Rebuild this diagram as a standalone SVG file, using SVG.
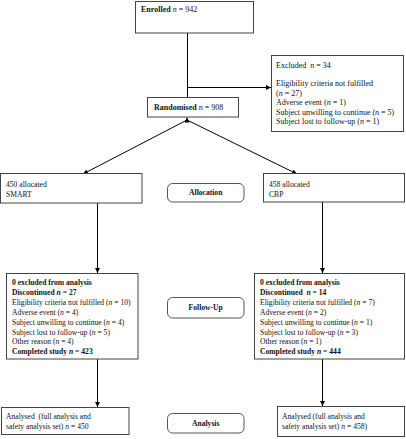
<svg xmlns="http://www.w3.org/2000/svg" width="406" height="439" viewBox="0 0 406 439">
<defs>
<marker id="ah" viewBox="0 0 6 6" refX="6" refY="3" markerWidth="5" markerHeight="5" orient="auto" markerUnits="userSpaceOnUse"><path d="M0,0 L6,3 L0,6 z" fill="#000"/></marker>
</defs>
<style>
.box{fill:#fff;stroke:#444;stroke-width:1}
.lab{fill:#fff;stroke:#555;stroke-width:1}
.ln{stroke:#000;stroke-width:1;fill:none}
text{font-family:"Liberation Serif","Times New Roman",serif;fill:#111;white-space:pre}
.t8{font-size:8px}
.t{font-size:7.6px}
.b{font-weight:bold}
.i{font-style:italic}
</style>
<rect width="406" height="439" fill="#fff"/>
<g id="connectors">
<line class="ln" x1="187.5" y1="33" x2="187.5" y2="97"/>
<line class="ln" x1="187.5" y1="87.5" x2="271" y2="87.5" marker-end="url(#ah)"/>
<line class="ln" x1="187" y1="121" x2="187" y2="117.5" marker-end="url(#ah)"/>
<line class="ln" x1="187" y1="120" x2="83" y2="174" marker-end="url(#ah)"/>
<line class="ln" x1="187" y1="120" x2="297" y2="174" marker-end="url(#ah)"/>
<line class="ln" x1="97.5" y1="203" x2="97.5" y2="273" marker-end="url(#ah)"/>
<line class="ln" x1="322.5" y1="202" x2="322.5" y2="273" marker-end="url(#ah)"/>
<line class="ln" x1="97.5" y1="359" x2="97.5" y2="407" marker-end="url(#ah)"/>
<line class="ln" x1="322.5" y1="359" x2="322.5" y2="406" marker-end="url(#ah)"/>
</g>
<g id="enrolled">
<rect class="box" x="135.5" y="1.5" width="118" height="31.5"/>
<text class="t8" x="141" y="12"><tspan class="b">Enrolled</tspan> <tspan class="i">n</tspan> = 942</text>
</g>
<g id="excluded">
<rect class="box" x="271.5" y="55.5" width="132" height="76"/>
<text class="t8" x="276" y="67.5">Excluded  <tspan class="i">n</tspan> = 34</text>
<text class="t8" x="276" y="86">Eligibility criteria not fulfilled</text>
<text class="t8" x="276" y="95.5">(<tspan class="i">n</tspan> = 27)</text>
<text class="t8" x="276" y="105">Adverse event (<tspan class="i">n</tspan> = 1)</text>
<text class="t8" x="276" y="114.5">Subject unwilling to continue (<tspan class="i">n</tspan> = 5)</text>
<text class="t8" x="276" y="124">Subject lost to follow-up (<tspan class="i">n</tspan> = 1)</text>
</g>
<g id="randomised">
<rect class="box" x="147.5" y="97.5" width="91" height="19.5"/>
<text class="t8" x="154" y="110"><tspan class="b">Randomised</tspan> <tspan class="i">n</tspan> = 908</text>
</g>
<g id="smart">
<rect class="box" x="0.5" y="173.5" width="141.5" height="29.5"/>
<text class="t" x="6" y="186.5">450 allocated</text>
<text class="t" x="6" y="196.5">SMART</text>
</g>
<g id="allocation">
<rect class="lab" x="167.5" y="183.5" width="76.5" height="18.5" rx="5"/>
<text class="t b" x="205.7" y="195" text-anchor="middle">Allocation</text>
</g>
<g id="cbp">
<rect class="box" x="263.5" y="173.5" width="141" height="28.5"/>
<text class="t" x="269" y="186.5">458 allocated</text>
<text class="t" x="269" y="196.5">CBP</text>
</g>
<g id="followup-smart">
<rect class="box" x="6.5" y="273.5" width="131.5" height="85.5"/>
<text class="t" x="12" y="285"><tspan class="b">0 excluded from analysis</tspan></text>
<text class="t" x="12" y="295"><tspan class="b">Discontinued <tspan class="i">n</tspan> = 27</tspan></text>
<text class="t" x="12" y="304.8">Eligibility criteria not fulfilled (<tspan class="i">n</tspan> = 10)</text>
<text class="t" x="12" y="314.7">Adverse event (<tspan class="i">n</tspan> = 4)</text>
<text class="t" x="12" y="324.6">Subject unwilling to continue (<tspan class="i">n</tspan> = 4)</text>
<text class="t" x="12" y="334.5">Subject lost to follow-up (<tspan class="i">n</tspan> = 5)</text>
<text class="t" x="12" y="344.4">Other reason (<tspan class="i">n</tspan> = 4)</text>
<text class="t" x="12" y="354.3"><tspan class="b">Completed study <tspan class="i">n</tspan> = 423</tspan></text>
</g>
<g id="followup">
<rect class="lab" x="167.5" y="297.5" width="76.5" height="20.5" rx="5"/>
<text class="t b" x="205.7" y="310" text-anchor="middle">Follow-Up</text>
</g>
<g id="followup-cbp">
<rect class="box" x="254.5" y="273.5" width="150" height="85.5"/>
<text class="t" x="260" y="285"><tspan class="b">0 excluded from analysis</tspan></text>
<text class="t" x="260" y="295"><tspan class="b">Discontinued  <tspan class="i">n</tspan> = 14</tspan></text>
<text class="t" x="260" y="304.8">Eligibility criteria not fulfilled (<tspan class="i">n</tspan> = 7)</text>
<text class="t" x="260" y="314.7">Adverse event (<tspan class="i">n</tspan> = 2)</text>
<text class="t" x="260" y="324.6">Subject unwilling to continue (<tspan class="i">n</tspan> = 1)</text>
<text class="t" x="260" y="334.5">Subject lost to follow-up (<tspan class="i">n</tspan> = 3)</text>
<text class="t" x="260" y="344.4">Other reason (<tspan class="i">n</tspan> = 1)</text>
<text class="t" x="260" y="354.3"><tspan class="b">Completed study <tspan class="i">n</tspan> = 444</tspan></text>
</g>
<g id="analysed-smart">
<rect class="box" x="1.5" y="407.5" width="127.5" height="27"/>
<text class="t" x="6" y="418.5">Analysed  (full analysis and</text>
<text class="t" x="6" y="428.5">safety analysis set) <tspan class="i">n</tspan> = 450</text>
</g>
<g id="analysis">
<rect class="lab" x="167.5" y="413.5" width="76.5" height="19.5" rx="5"/>
<text class="t b" x="205.7" y="426" text-anchor="middle">Analysis</text>
</g>
<g id="analysed-cbp">
<rect class="box" x="277.5" y="406.5" width="127" height="30"/>
<text class="t" x="282" y="418.5">Analysed (full analysis and</text>
<text class="t" x="282" y="428.5">safety analysis set) <tspan class="i">n</tspan> = 458)</text>
</g>
</svg>
